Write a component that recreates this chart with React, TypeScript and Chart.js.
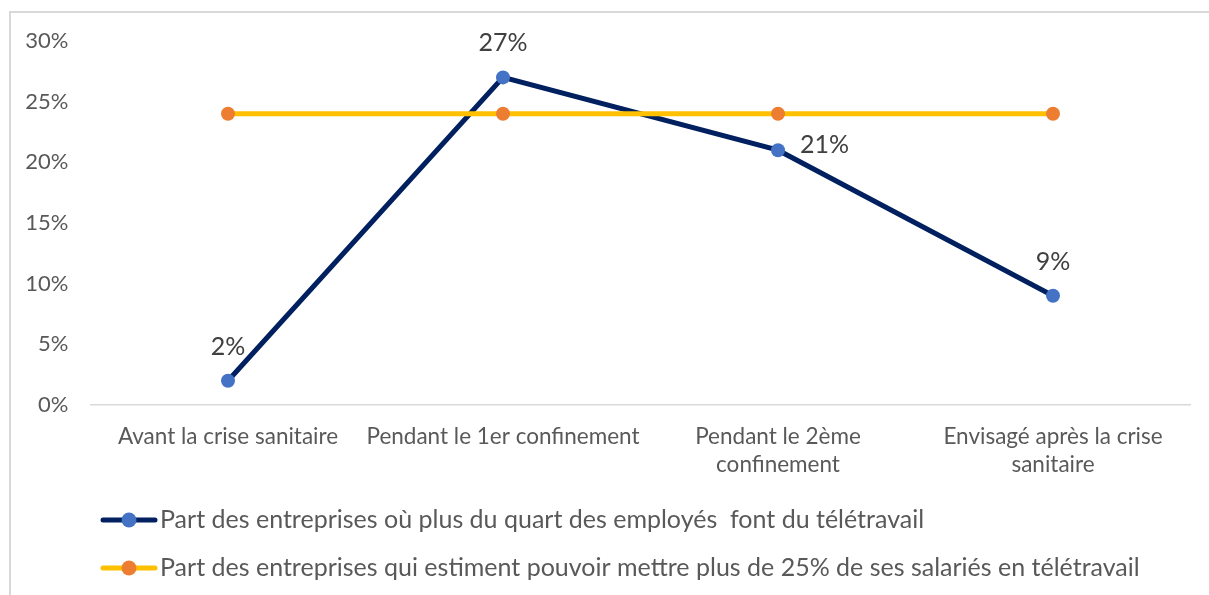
import React, { useEffect, useRef } from "react";
import { Chart, registerables } from "chart.js";

Chart.register(...registerables);

const categories: (string | string[])[] = [
  "Avant la crise sanitaire",
  "Pendant le 1er confinement",
  ["Pendant le 2ème", "confinement"],
  ["Envisagé après la crise", "sanitaire"],
];
const seriesNames = [
  "Part des entreprises où plus du quart des employés  font du télétravail",
  "Part des entreprises qui estiment pouvoir mettre plus de 25% de ses salariés en télétravail",
];
const teleworkShare = [2, 27, 21, 9];
const estimatedShare = [24, 24, 24, 24];
const yTicks = [0, 5, 10, 15, 20, 25, 30];

const FONT = "Lato, 'Open Sans', sans-serif";
const TEXT = "#595959";

const labelsPlugin = {
  id: "dataLabels",
  afterDatasetsDraw(chart: any) {
    const ctx = chart.ctx;
    const meta = chart.getDatasetMeta(0);
    ctx.save();
    ctx.font = `25px ${FONT}`;
    ctx.fillStyle = "#404040";
    ctx.textBaseline = "middle";
    meta.data.forEach((pt: any, i: number) => {
      const txt = `${teleworkShare[i]}%`;
      if (i === 2) {
        ctx.textAlign = "left";
        ctx.fillText(txt, pt.x + 22, pt.y - 5);
      } else {
        ctx.textAlign = "center";
        ctx.fillText(txt, pt.x, pt.y - 34);
      }
    });
    ctx.restore();
  },
};

const legendPlugin = {
  id: "customLegend",
  afterDraw(chart: any) {
    const ctx = chart.ctx;
    const rows = [
      { name: seriesNames[0], line: "#002060", dot: "#4472C4", y: 520 },
      { name: seriesNames[1], line: "#FFC000", dot: "#ED7D31", y: 568 },
    ];
    ctx.save();
    rows.forEach((r) => {
      ctx.strokeStyle = r.line;
      ctx.lineWidth = 5;
      ctx.lineCap = "round";
      ctx.beginPath();
      ctx.moveTo(103, r.y);
      ctx.lineTo(155, r.y);
      ctx.stroke();
      ctx.fillStyle = r.dot;
      ctx.beginPath();
      ctx.arc(129, r.y, 7.5, 0, Math.PI * 2);
      ctx.fill();
      ctx.fillStyle = TEXT;
      ctx.font = `25px ${FONT}`;
      ctx.textAlign = "left";
      ctx.textBaseline = "middle";
      ctx.fillText(r.name, 160, r.y);
    });
    ctx.restore();
  },
};

export default function App() {
  const ref = useRef<HTMLCanvasElement>(null);
  useEffect(() => {
    document.body.style.margin = "0";
    const chart = new Chart(ref.current!, {
      type: "line",
      data: {
        labels: categories,
        datasets: [
          {
            label: seriesNames[0],
            data: teleworkShare,
            borderColor: "#002060",
            backgroundColor: "#4472C4",
            pointBackgroundColor: "#4472C4",
            pointBorderColor: "#4472C4",
            borderWidth: 5,
            pointRadius: 7,
            pointBorderWidth: 0,
            tension: 0,
            order: 1,
          },
          {
            label: seriesNames[1],
            data: estimatedShare,
            borderColor: "#FFC000",
            backgroundColor: "#ED7D31",
            pointBackgroundColor: "#ED7D31",
            pointBorderColor: "#ED7D31",
            borderWidth: 5,
            pointRadius: 7,
            pointBorderWidth: 0,
            tension: 0,
            order: 0,
          },
        ],
      },
      options: {
        animation: false,
        responsive: false,
        maintainAspectRatio: false,
        layout: { padding: { top: 41, right: 18.5, left: 0, bottom: 0 } },
        plugins: { legend: { display: false }, tooltip: { enabled: false } },
        scales: {
          x: {
            offset: true,
            grid: { display: false, drawTicks: false },
            border: { display: true, color: "#d9d9d9", width: 1.5 },
            ticks: {
              color: TEXT,
              font: { family: FONT, size: 22.5, lineHeight: 1.25 },
              padding: 18,
              maxRotation: 0,
              autoSkip: false,
            },
            afterFit: (s: any) => {
              s.height = 190;
            },
          },
          y: {
            min: 0,
            max: 30,
            afterBuildTicks: (s: any) => {
              s.ticks = yTicks.map((v) => ({ value: v }));
            },
            grid: { display: false, drawTicks: false },
            border: { display: false },
            ticks: {
              color: TEXT,
              font: { family: FONT, size: 22 },
              padding: 22,
              callback: (v: any) => `${v}%`,
            },
            afterFit: (s: any) => {
              s.width = 90.5;
            },
          },
        },
      },
      plugins: [labelsPlugin, legendPlugin],
    });
    return () => chart.destroy();
  }, []);
  return (
    <div style={{ position: "relative", width: 1209, height: 595, background: "#fff" }}>
      <div
        style={{
          position: "absolute",
          left: 9,
          top: 11,
          width: 1210,
          height: 600,
          borderLeft: "2px solid #d9d9d9",
          borderTop: "2px solid #d9d9d9",
          boxSizing: "border-box",
        }}
      />
      <canvas ref={ref} width={1209} height={595} style={{ position: "absolute", left: 0, top: 0 }} />
    </div>
  );
}
